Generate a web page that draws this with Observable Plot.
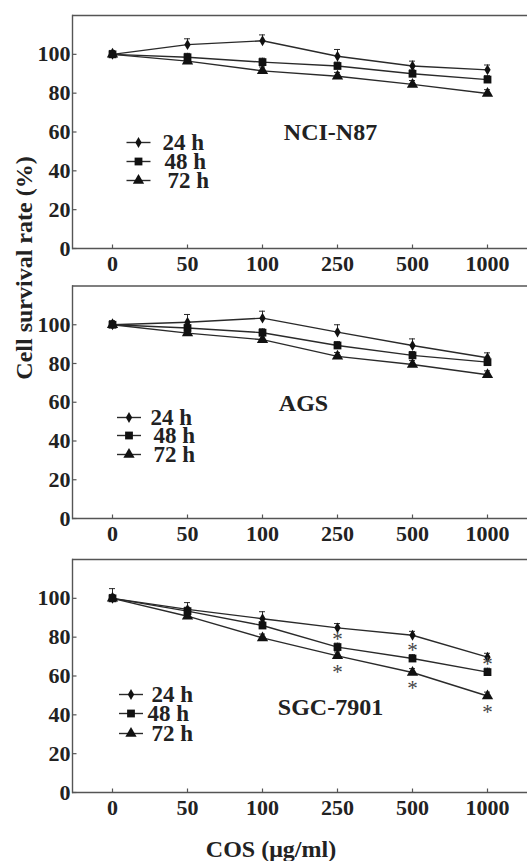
<!DOCTYPE html>
<html><head><meta charset="utf-8">
<script src="https://cdn.jsdelivr.net/npm/d3@7"></script>
<script src="https://cdn.jsdelivr.net/npm/@observablehq/plot@0.6"></script>
<style>
html,body{margin:0;padding:0;background:#fff;overflow:hidden}
#chart{position:relative;width:527px;height:861px;font-family:"Liberation Serif","Times New Roman",serif;font-weight:bold;color:#222}
.panel{position:absolute;left:0}
#ytitle{position:absolute;left:24px;top:268px;transform:translate(-50%,-50%) rotate(-90deg);font-size:24px;line-height:1;white-space:nowrap}
#xtitle{position:absolute;left:271px;top:837px;transform:translateX(-50%);font-size:24px;line-height:1;white-space:nowrap}
</style></head><body><div id="chart"><div id="ytitle">Cell survival rate (%)</div><div id="xtitle">COS (μg/ml)</div></div>
<script>
// ---- data ----
const doses = ["0","50","100","250","500","1000"];
const times = ["24 h","48 h","72 h"];
const yTicks = [0,20,40,60,80,100];
const cellLines = ["NCI-N87","AGS","SGC-7901"];

const nci24 = [100,105,107,99,94,92];
const nci48 = [100,98.5,96,94,90,87];
const nci72 = [100,96.5,91.5,88.7,84.5,79.8];
const nciErr24 = [2,3,3,3.5,2.5,2.5];
const nciErr48 = [1.5,2,2,2,2,2];
const nciErr72 = [1.5,1.5,2,2,2,2];

const ags24 = [100,101.3,103.4,96.2,89.3,83];
const ags48 = [100,98.3,95.9,89.3,84.2,80.7];
const ags72 = [100,95.7,92.3,83.7,79.5,74.2];
const agsErr24 = [2,4,3.6,3.8,3.4,2.5];
const agsErr48 = [2,2,2,2,2,2];
const agsErr72 = [1.5,2,2,2,2,2];

const sgc24 = [100,94.3,89.5,84.8,81,69.7];
const sgc48 = [100,93.4,86,74.9,69,62];
const sgc72 = [100,90.8,79.6,70.4,61.8,49.7];
const sgcErr24 = [5,3.5,3.6,2.2,2,2];
const sgcErr48 = [2,2,2,2,2,2];
const sgcErr72 = [1.5,1.5,2,2,2,2];

const sgcStars48 = ["250","500","1000"];
const sgcStars72 = ["250","500","1000"];

// ---- helpers ----
function makeRows(vals, errs) {
  const rows = [];
  vals.forEach((v, k) => doses.forEach((d, i) => rows.push({dose: d, time: times[k], value: v[i], err: errs[k][i]})));
  return rows;
}
const tickRight = {draw(ctx){ctx.moveTo(0,0); ctx.lineTo(4,0);}};
const tickUp = {draw(ctx){ctx.moveTo(0,0); ctx.lineTo(0,-4);}};
const dash = {draw(ctx){ctx.moveTo(-12,0); ctx.lineTo(12,0);}};
const symbols = ["diamond","square","triangle"];
const symR = [3.3,4.4,4.2];
const INK = "#2a2a2a", AXIS = "#555";

function panel(cfg) {
  const rows = makeRows(cfg.vals, cfg.errs);
  const marks = [
    Plot.frame({anchor: "left", stroke: AXIS, strokeWidth: 1.4}),
    Plot.ruleY([0, 120], {stroke: AXIS, strokeWidth: 1.4}),
    Plot.dot(yTicks, {y: d => d, frameAnchor: "left", symbol: tickRight, stroke: AXIS, fill: "none", strokeWidth: 1.2}),
    Plot.dot(doses, {x: d => d, frameAnchor: "bottom", symbol: tickUp, stroke: AXIS, fill: "none", strokeWidth: 1.2}),
    Plot.axisX({tickSize: 0, tickPadding: 7, label: null, fontSize: 22, fill: "#222"}),
    Plot.axisY(yTicks, {tickSize: 0, tickPadding: 2, label: null, fontSize: 22, fill: "#222"}),
    Plot.ruleX(rows, {x: "dose", y1: "value", y2: d => d.value + d.err, stroke: INK, strokeWidth: 1}),
    Plot.ruleY(rows, {y: d => d.value + d.err, x1: "dose", x2: "dose", insetLeft: -3, insetRight: -3, stroke: INK, strokeWidth: 1}),
    Plot.line(rows, {x: "dose", y: "value", z: "time", stroke: INK, strokeWidth: 1.4})
  ];
  times.forEach((t, k) => {
    marks.push(Plot.dot(rows.filter(d => d.time === t), {x: "dose", y: "value", symbol: () => symbols[k], r: symR[k], fill: "#111", stroke: "none"}));
  });
  if (cfg.stars48) {
    marks.push(Plot.text(rows.filter(d => d.time === "48 h" && cfg.stars48.includes(d.dose)), {x: "dose", y: "value", text: () => "*", dy: -8, fontSize: 21, fill: "#444", fontWeight: "normal"}));
    marks.push(Plot.text(rows.filter(d => d.time === "72 h" && cfg.stars72.includes(d.dose)), {x: "dose", y: "value", text: () => "*", dy: 16, fontSize: 21, fill: "#444", fontWeight: "normal"}));
  }
  // legend
  const L = cfg.legend;
  times.forEach((t, k) => {
    marks.push(Plot.dot([t], {frameAnchor: "top-left", dx: L.mx, dy: L.y[k], symbol: dash, stroke: INK, strokeWidth: 1.4, fill: "none"}));
    marks.push(Plot.dot([t], {frameAnchor: "top-left", dx: L.mx, dy: L.y[k], symbol: symbols[k], r: symR[k], fill: "#111"}));
    marks.push(Plot.text([t], {frameAnchor: "top-left", dx: L.tx[k], dy: L.y[k], text: d => d, textAnchor: "start", lineAnchor: "middle", fontSize: 23, fill: "#222"}));
  });
  marks.push(Plot.text([cfg.name], {frameAnchor: "top-left", dx: cfg.lx, dy: cfg.ly, text: d => d, textAnchor: "middle", lineAnchor: "middle", fontSize: 24, fill: "#222"}));

  const svg = Plot.plot({
    width: 527, height: 280,
    marginLeft: 72, marginRight: 0, marginTop: cfg.mt, marginBottom: 32,
    style: {background: "transparent", fontFamily: "'Liberation Serif','Times New Roman',serif", fontWeight: "bold", fontSize: "22px", color: "#222", overflow: "visible"},
    x: {type: "point", domain: doses, padding: 0.5},
    y: {domain: [0, 120]},
    marks
  });
  svg.classList.add("panel");
  svg.style.top = cfg.top + "px";
  return svg;
}

const chart = document.getElementById("chart");
chart.appendChild(panel({
  name: cellLines[0], top: 0, mt: 15,
  vals: [nci24, nci48, nci72], errs: [nciErr24, nciErr48, nciErr72],
  legend: {mx: 66, tx: [90, 92, 95], y: [127, 146, 165]},
  lx: 258, ly: 117
}));
chart.appendChild(panel({
  name: cellLines[1], top: 270, mt: 15.5,
  vals: [ags24, ags48, ags72], errs: [agsErr24, agsErr48, agsErr72],
  legend: {mx: 56.5, tx: [78, 81, 81], y: [131.5, 149.5, 168.5]},
  lx: 231, ly: 117.5
}));
chart.appendChild(panel({
  name: cellLines[2], top: 544, mt: 15,
  vals: [sgc24, sgc48, sgc72], errs: [sgcErr24, sgcErr48, sgcErr72],
  stars48: sgcStars48, stars72: sgcStars72,
  legend: {mx: 58.5, tx: [79, 75, 79], y: [135, 154, 174]},
  lx: 258, ly: 148
}));
</script></body></html>
